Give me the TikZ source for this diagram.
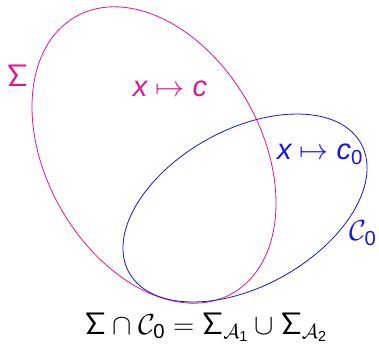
\RequirePackage{fix-cm}
\documentclass[tikz,border=0pt]{standalone}
\usepackage{fontspec}
\newfontfamily\lsans{Liberation Sans}[NFSSFamily=libsans]
\DeclareMathAlphabet{\mathlsi}{TU}{libsans}{m}{it}
\DeclareMathAlphabet{\mathls}{TU}{libsans}{m}{n}
\DeclareMathAlphabet{\mathcmss}{OT1}{cmss}{m}{n}
\newcommand\Sig{\mbox{\fontsize{31}{36}\selectfont$\mathcmss{\Sigma}$}}
\definecolor{pinkc}{RGB}{230,20,140}
\definecolor{bluec}{RGB}{20,20,235}
\begin{document}
\begin{tikzpicture}[x=1pt,y=1pt,
  lbl/.style={inner sep=0pt,anchor=base,font=\fontsize{29}{34}\selectfont},
  curve/.style={line width=0.8pt}]
\useasboundingbox (0,0) rectangle (379,345);
\draw[curve,pinkc] (154,190) ellipse[x radius=159,y radius=107.5,rotate=-60.5];
\draw[curve,bluec] (245,137) ellipse[x radius=132.7,y radius=78.2,rotate=29.1];
\node[lbl,text=pinkc] (sig) at (17.5,258) {$\Sig$};
\node[lbl,text=pinkc] (mc) at (170,248) {$\mathlsi{x}\mapsto\mathlsi{c}$};
\node[lbl,text=bluec] (mc0) at (320,185) {$\mathlsi{x}\mapsto\mathlsi{c}_{\mathls{0}}$};
\node[lbl,text=bluec] (c0) at (363,104) {$\mathcal{C}_{\mathls{0}}$};
\node[lbl] (eq) at (206,11) {$\Sig\cap\mathcal{C}_{\mathls{0}}=\Sig_{\mathcal{A}_{\mathls{1}}}\cup\Sig_{\mathcal{A}_{\mathls{2}}}$};
\end{tikzpicture}
\end{document}
